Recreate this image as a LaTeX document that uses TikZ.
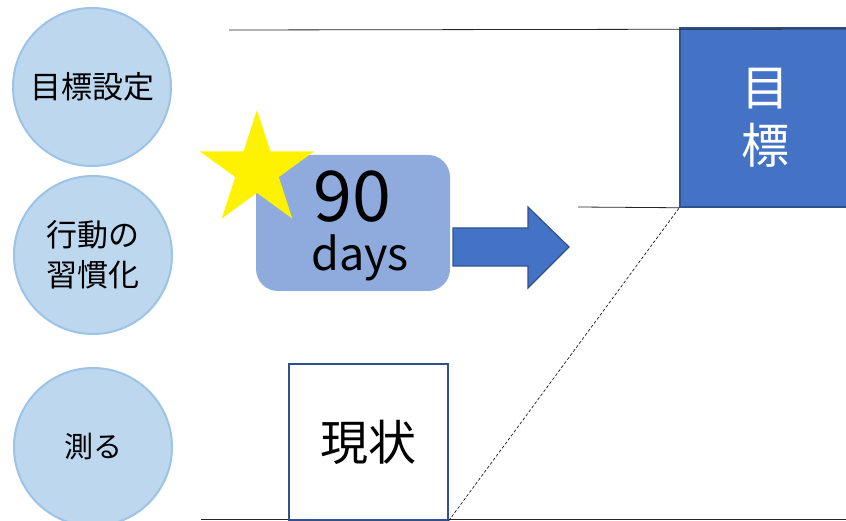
\documentclass[tikz,border=0pt]{standalone}
\usepackage{fontspec}
\setmainfont{Noto Sans CJK JP}
\usetikzlibrary{shapes.geometric}
\definecolor{circfill}{HTML}{BDD7EE}
\definecolor{circline}{HTML}{9DC3E6}
\definecolor{accent}{HTML}{4472C4}
\definecolor{accentdark}{HTML}{2F528F}
\definecolor{daysfill}{HTML}{8FAADC}
\tikzset{
  stage/.style={circle, fill=circfill, draw=circline, line width=2pt, minimum size=158pt, inner sep=0pt, font=\fontsize{31}{40}\selectfont, align=center},
  rule/.style={draw=black!85, line width=0.8pt},
}
\begin{document}
\begin{tikzpicture}[x=1pt,y=-1pt]
\useasboundingbox (0,0) rectangle (846,521);
\fill[white] (0,0) rectangle (846,521);
% stage circles
\node[stage] (c1) at (92,87) {目標設定};
\node[stage] (c2) at (93,255) {行動の\\習慣化};
\node[stage, font=\fontsize{29}{36}\selectfont] (c3) at (93,447) {測る};
% goal box
\node[rectangle, fill=accent, draw=accentdark, line width=1.5pt, minimum width=170pt, minimum height=179pt, inner sep=0pt, text=white, align=center, font=\fontsize{48}{58}\selectfont] (goal) at (765,117.5) {目\\標};
% lines
\coordinate (t0) at (229,30);
\coordinate (t1) at (846,29);
\draw[rule] (t0) -- (t1);
\coordinate (m0) at (578,207);
\draw[rule] (m0) -- (goal.south west);
\coordinate (b0) at (201,519);
\coordinate (b1) at (846,519);
\draw[rule] (b0) -- (b1);
% 90 days box
\node[rectangle, rounded corners=22pt, fill=daysfill, minimum width=194pt, minimum height=136pt, inner sep=0pt] (days) at (353,223) {};
\node[font=\fontsize{70}{70}\selectfont, inner sep=0pt] (n90) at (352,197) {90};
\node[font=\fontsize{45}{45}\selectfont, inner sep=0pt] (dtxt) at (360,258) {days};
% star
\node[star, star points=5, star point ratio=2.618, minimum size=120pt, inner sep=0pt, fill=yellow] (star) at (257,170) {};
% block arrow
\coordinate (a1) at (453,228);
\draw[fill=accent, draw=accentdark, line width=1.2pt] (a1) -- (528,228) -- (528,207) -- (569,247) -- (528,288) -- (528,266) -- (453,266) -- cycle;
% current state box
\node[rectangle, fill=white, draw=accentdark, line width=1.5pt, minimum width=159pt, minimum height=156pt, inner sep=0pt, font=\fontsize{48}{48}\selectfont] (now) at (368.5,442) {現状};
% dashed connector
\draw[black, densely dashed, line width=0.6pt] (now.south east) -- (goal.south west);
\end{tikzpicture}
\end{document}
